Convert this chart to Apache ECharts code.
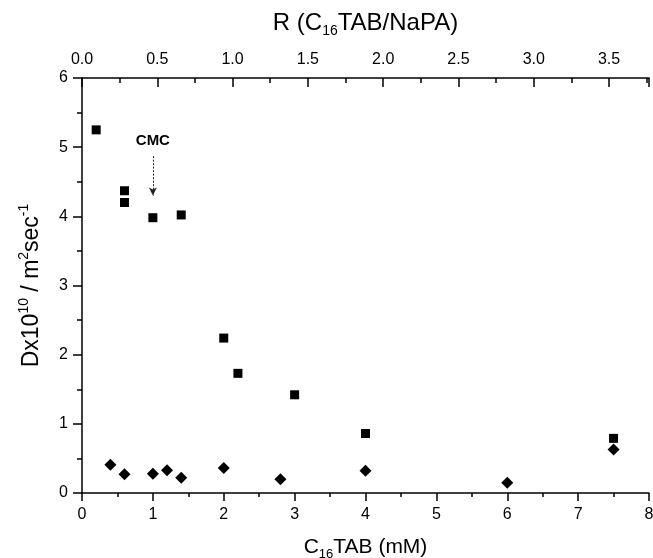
<!DOCTYPE html>
<html>
<head>
<meta charset="utf-8">
<title>Dx vs C16TAB</title>
<script src="https://cdn.jsdelivr.net/npm/echarts@6/dist/echarts.min.js"></script>
<style>
  html, body { margin: 0; padding: 0; background: #fff; }
  #chart { width: 653px; height: 558px; }
</style>
</head>
<body>
<div id="chart"></div>
<script>
// 方块：C16TAB 浓度 (mM) 与 Dx
const squareX = [0.2, 0.6, 0.6, 1.0, 1.4, 2.0, 2.2, 3.0, 4.0, 7.5];
const squareY = [5.25, 4.37, 4.20, 3.98, 4.02, 2.24, 1.73, 1.42, 0.86, 0.79];

// 菱形
const diamondX = [0.4, 0.6, 1.0, 1.2, 1.4, 2.0, 2.8, 4.0, 6.0, 7.5];
const diamondY = [0.41, 0.27, 0.28, 0.33, 0.22, 0.36, 0.20, 0.32, 0.15, 0.63];

// 坐标轴范围
const bottomRange = [0, 8];
const topRange = [0, 3.765]; // R = C16TAB / NaPA
const leftRange = [0, 6];

// CMC 箭头 (数据坐标)
const cmcLabel = 'CMC';
const cmcArrow = [[1.0, 4.87], [1.0, 4.30]];

const FONT = '"Liberation Sans", Arial, sans-serif';

const pairs = (xs, ys) => xs.map((x, i) => [x, ys[i]]);

const chart = echarts.init(document.getElementById('chart'));

// 轴名称样式：带上下标
const makeNameStyle = (size, subSize) => ({
  fontFamily: FONT,
  fontSize: size,
  lineHeight: size + 6,
  color: '#000',
  rich: {
    sub: { fontSize: subSize, lineHeight: subSize, verticalAlign: 'bottom', fontFamily: FONT, color: '#000' },
    sup: { fontSize: subSize, lineHeight: subSize, verticalAlign: 'top', fontFamily: FONT, color: '#000' }
  }
});

const lineStyle = { color: '#000', width: 1.5 };
const axisCommon = {
  axisLine: { show: true, onZero: false, lineStyle: lineStyle },
  splitLine: { show: false },
  axisLabel: { fontFamily: FONT, fontSize: 16, color: '#000' }
};

const option = {
  backgroundColor: '#fff',
  animation: false,
  // 固定绘图区，不让 v6 自动收缩
  grid: { left: 82, right: 4, top: 78, height: 415, outerBoundsMode: 'none', containLabel: false },
  xAxis: [
    {
      ...axisCommon,
      type: 'value',
      position: 'bottom',
      min: bottomRange[0],
      max: bottomRange[1],
      interval: 1,
      name: 'C{sub|16}TAB (mM)',
      nameLocation: 'middle',
      nameGap: 41,
      nameTextStyle: makeNameStyle(21, 13),
      axisTick: { show: true, length: 8, lineStyle: lineStyle },
      minorTick: { show: true, splitNumber: 2, length: 4, lineStyle: lineStyle },
      axisLabel: { ...axisCommon.axisLabel, margin: 14 }
    },
    {
      ...axisCommon,
      type: 'value',
      position: 'top',
      min: topRange[0],
      max: topRange[1],
      interval: 0.5,
      name: 'R (C{sub|16}TAB/NaPA)',
      nameLocation: 'middle',
      nameGap: 40,
      nameTextStyle: makeNameStyle(24, 14),
      axisTick: { show: true, inside: true, length: 9, lineStyle: lineStyle },
      minorTick: { show: true, splitNumber: 2, length: 5, lineStyle: lineStyle },
      axisLabel: {
        ...axisCommon.axisLabel,
        margin: 10,
        showMaxLabel: false,
        formatter: (v) => v.toFixed(1)
      }
    }
  ],
  yAxis: {
    ...axisCommon,
    type: 'value',
    min: leftRange[0],
    max: leftRange[1],
    interval: 1,
    name: 'Dx10{sup|10} / m{sup|2}sec{sup|-1}',
    nameLocation: 'middle',
    nameGap: 36,
    nameTextStyle: makeNameStyle(23, 14),
    axisTick: { show: true, length: 9, lineStyle: lineStyle },
    minorTick: { show: true, splitNumber: 2, length: 5, lineStyle: lineStyle },
    axisLabel: { ...axisCommon.axisLabel, margin: 14 }
  },
  series: [
    {
      name: 'square',
      type: 'scatter',
      xAxisIndex: 0,
      symbol: 'rect',
      symbolSize: 9,
      itemStyle: { color: '#000', opacity: 1 },
      data: pairs(squareX, squareY),
      markLine: {
        silent: true,
        symbol: ['none', 'arrow'],
        symbolSize: [6, 8],
        lineStyle: { color: '#222', width: 1, type: [2, 1.5] },
        label: {
          show: true,
          position: 'start',
          distance: 8,
          formatter: cmcLabel,
          fontFamily: FONT,
          fontSize: 15,
          fontWeight: 'bold',
          color: '#000'
        },
        data: [[{ coord: cmcArrow[0] }, { coord: cmcArrow[1] }]]
      }
    },
    {
      name: 'diamond',
      type: 'scatter',
      xAxisIndex: 0,
      symbol: 'diamond',
      symbolSize: 12,
      itemStyle: { color: '#000', opacity: 1 },
      data: pairs(diamondX, diamondY)
    }
  ]
};

chart.setOption(option);
</script>
</body>
</html>
